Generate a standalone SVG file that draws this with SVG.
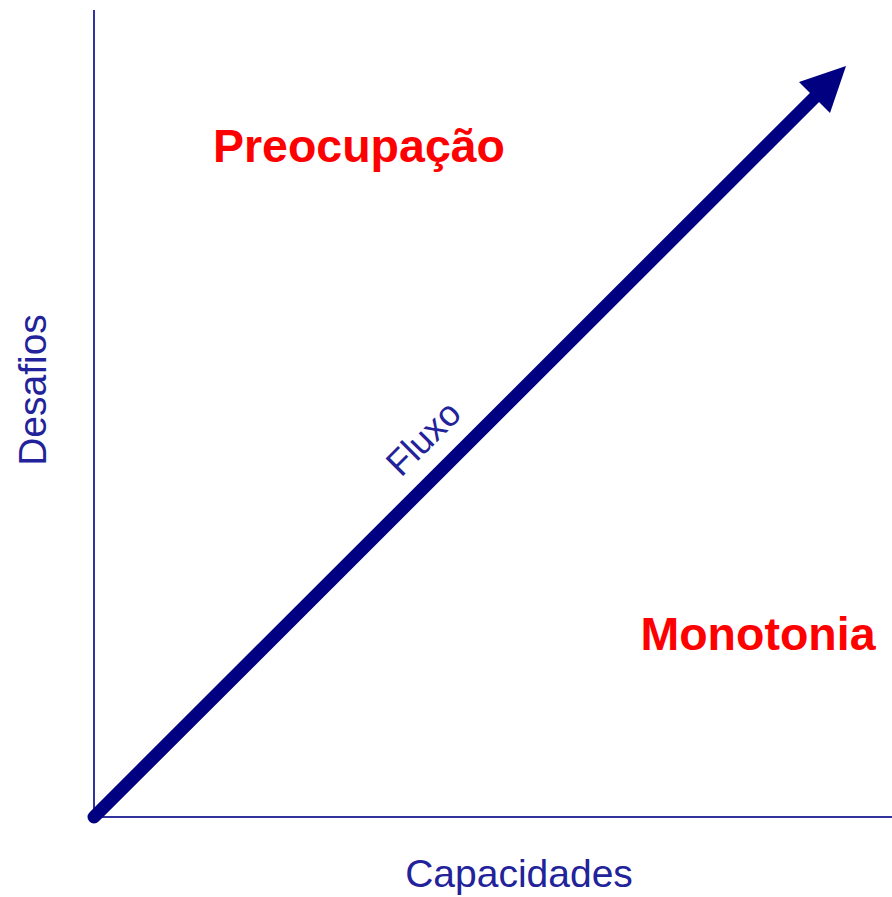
<svg xmlns="http://www.w3.org/2000/svg" width="892" height="897" viewBox="0 0 892 897">
<style>
.axis{stroke:#3333a0;stroke-width:2;fill:none}
.flow{stroke:#000080;stroke-width:13;stroke-linecap:round;fill:none}
.lbl{font-family:"Liberation Sans",Arial,sans-serif;fill:#22229a}
.zone{font-family:"Liberation Sans",Arial,sans-serif;font-weight:bold;fill:#ff0000;font-size:46.5px}
</style>
<rect width="892" height="897" fill="#ffffff"/>
<g id="connectors">
<line class="axis" x1="94" y1="10" x2="94" y2="818"/>
<line class="axis" x1="93" y1="817" x2="892" y2="817"/>
<line class="flow" x1="94" y1="817" x2="818" y2="94"/>
<polygon points="846,66 799,82 830,113" fill="#000080"/>
</g>
<g id="label-desafios"><text class="lbl" font-size="39" transform="translate(46,390) rotate(-90)" text-anchor="middle">Desafios</text></g>
<g id="label-capacidades"><text class="lbl" font-size="39" x="519" y="887" text-anchor="middle">Capacidades</text></g>
<g id="label-fluxo"><text class="lbl" font-size="36" transform="translate(432,447) rotate(-45)" text-anchor="middle">Fluxo</text></g>
<g id="zone-preocupacao"><text class="zone" x="359" y="162" text-anchor="middle">Preocupação</text></g>
<g id="zone-monotonia"><text class="zone" x="758" y="650" text-anchor="middle">Monotonia</text></g>
</svg>
